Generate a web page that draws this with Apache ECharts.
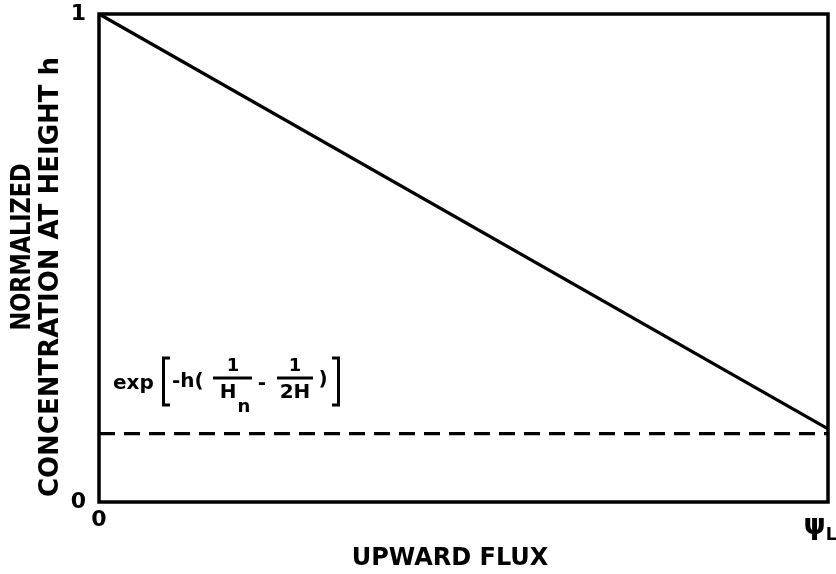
<!DOCTYPE html>
<html>
<head>
<meta charset="utf-8">
<style>
  html, body { margin: 0; padding: 0; background: #fff; }
  #chart { width: 836px; height: 574px; }
</style>
<script src="https://cdn.jsdelivr.net/npm/echarts@6/dist/echarts.min.js"></script>
</head>
<body>
<div id="chart"></div>
<script>
// Normalized concentration at height h versus upward flux
const fluxPoints = [0, 1];            // upward flux, 0 .. psi_L (normalized)
const concentration = [1, 0.15];      // straight-line decrease
const limitLevel = [0.14, 0.14];      // asymptotic level exp[-h(1/Hn - 1/2H)]
const xTickLabels = { 0: '0', 1: '{psi|ψ}{sub|L}' };
const yTickLabels = { 0: '0', 1: '1' };

const FONT = '"DejaVu Sans", sans-serif';
const chart = echarts.init(document.getElementById('chart'), null, { renderer: 'canvas' });

const lineData = fluxPoints.map((x, i) => [x, concentration[i]]);
const dashData = fluxPoints.map((x, i) => [x, limitLevel[i]]);

function txt(x, y, s, size, align) {
  return {
    type: 'text', x: x, y: y, silent: true,
    style: { text: s, fill: '#000', font: 'bold ' + size + 'px ' + FONT,
             align: align || 'center', verticalAlign: 'middle' }
  };
}
function seg(points) {
  return {
    type: 'polyline', silent: true,
    shape: { points: points },
    style: { stroke: '#000', lineWidth: 3, fill: null }
  };
}

chart.setOption({
  animation: false,
  backgroundColor: '#fff',
  grid: { left: 99, right: 8, top: 14, bottom: 72, show: true, outerBoundsMode: 'none',
          borderColor: '#000', borderWidth: 3.5, backgroundColor: 'transparent' },
  xAxis: {
    type: 'value', min: 0, max: 1, interval: 1,
    axisLine: { show: false }, axisTick: { show: false }, splitLine: { show: false },
    axisLabel: {
      margin: 7, color: '#000', fontFamily: FONT, fontWeight: 'bold', fontSize: 22,
      formatter: v => xTickLabels[v] || '',
      rich: {
        psi: { fontFamily: FONT, fontWeight: 'bold', fontSize: 28, color: '#000' },
        sub: { fontFamily: FONT, fontWeight: 'bold', fontSize: 17, color: '#000', verticalAlign: 'bottom', padding: [18, 16, 0, 0] }
      }
    }
  },
  yAxis: {
    type: 'value', min: 0, max: 1, interval: 1,
    axisLine: { show: false }, axisTick: { show: false }, splitLine: { show: false },
    axisLabel: {
      margin: 13, color: '#000', fontFamily: FONT, fontWeight: 'bold', fontSize: 22,
      formatter: v => yTickLabels[v] || ''
    }
  },
  series: [
    {
      type: 'line', data: lineData, symbol: 'none',
      lineStyle: { color: '#000', width: 3.2 }
    },
    {
      type: 'line', data: dashData, symbol: 'none',
      lineStyle: { color: '#000', width: 3.2, type: [16, 9] }
    }
  ],
  graphic: [
    // axis titles
    txt(450, 559, 'UPWARD FLUX', 24),
    Object.assign(txt(23, 247, 'NORMALIZED', 26), { rotation: Math.PI / 2, scaleX: 0.86 }),
    Object.assign(txt(51, 277, 'CONCENTRATION AT HEIGHT h', 26), { rotation: Math.PI / 2 }),
    // formula label: exp[-h(1/Hn - 1/2H)]
    txt(113, 384, 'exp', 20, 'left'),
    seg([[170, 358], [163.5, 358], [163.5, 405], [170, 405]]),
    txt(172, 382, '-h(', 20, 'left'),
    txt(233, 366, '1', 18),
    seg([[213, 378], [252, 378]]),
    txt(228, 393, 'H', 20),
    txt(244, 407, 'n', 18),
    txt(262, 384, '-', 20),
    txt(295, 366, '1', 18),
    seg([[277, 378], [313, 378]]),
    txt(295, 393, '2H', 20),
    txt(323, 380, ')', 20),
    seg([[332, 358], [338.5, 358], [338.5, 405], [332, 405]])
  ]
});
</script>
</body>
</html>
